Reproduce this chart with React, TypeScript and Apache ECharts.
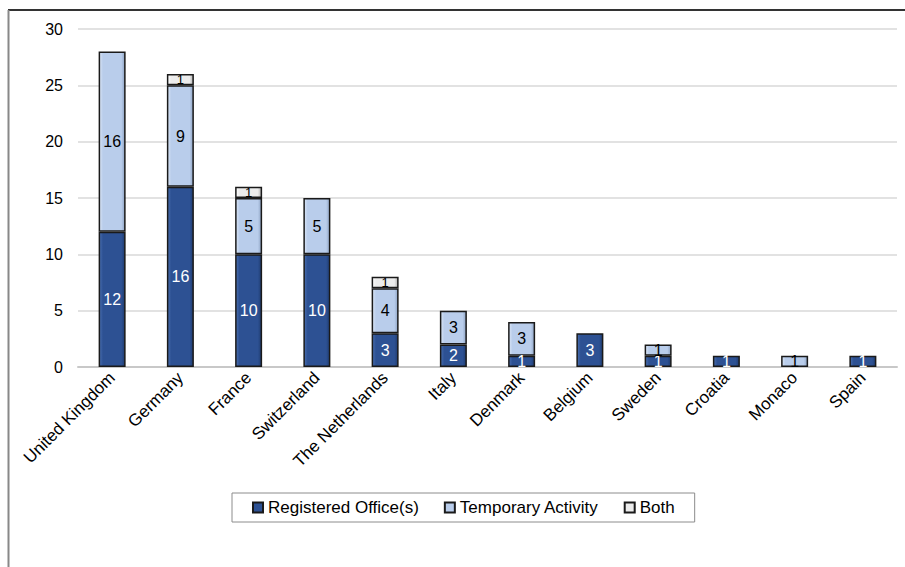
import React, { useEffect, useRef } from "react";
import * as echarts from "echarts";

const categories = [
  "United Kingdom",
  "Germany",
  "France",
  "Switzerland",
  "The Netherlands",
  "Italy",
  "Denmark",
  "Belgium",
  "Sweden",
  "Croatia",
  "Monaco",
  "Spain",
];
const registeredOffice = [12, 16, 10, 10, 3, 2, 1, 3, 1, 1, 0, 1];
const temporaryActivity = [16, 9, 5, 5, 4, 3, 3, 0, 1, 0, 1, 0];
const both = [0, 1, 1, 0, 1, 0, 0, 0, 0, 0, 0, 0];
const yTicks = { min: 0, max: 30, interval: 5 };

const FONT = "'Liberation Sans', Arial, sans-serif";

function grad(edgeL: string, base: string, edgeR: string) {
  return new echarts.graphic.LinearGradient(0, 0, 1, 0, [
    { offset: 0, color: edgeL },
    { offset: 0.14, color: base },
    { offset: 0.86, color: base },
    { offset: 1, color: edgeR },
  ]);
}

export default function App() {
  const ref = useRef<HTMLDivElement>(null);
  useEffect(() => {
    if (!ref.current) return;
    const chart = echarts.init(ref.current, undefined, { renderer: "svg" });
    const toData = (arr: number[]) => arr.map((v) => (v === 0 ? null : v));
    const mkSeries = (
      name: string,
      arr: number[],
      color: any,
      labelColor: string,
      labelSize: number
    ) => ({
      name,
      type: "bar",
      stack: "total",
      barWidth: 27,
      data: toData(arr),
      itemStyle: { color, borderColor: "#1a1a1a", borderWidth: 1.5 },
      label: {
        show: true,
        position: "inside",
        color: labelColor,
        fontSize: labelSize,
        fontFamily: FONT,
        textBorderWidth: 0,
        textBorderColor: "transparent",
      },
    });
    chart.setOption({
      animation: false,
      backgroundColor: "#fff",
      textStyle: { fontFamily: FONT },
      grid: { left: 78, right: 8, top: 29, bottom: 200 },
      legend: {
        left: 232,
        top: 493,
        itemWidth: 10,
        itemHeight: 10,
        itemGap: 25,
        icon: "rect",
        padding: [6, 20],
        borderColor: "#8c8c8c",
        borderWidth: 1,
        textStyle: { fontSize: 17, color: "#000", fontFamily: FONT },
        data: ["Registered Office(s)", "Temporary Activity", "Both"],
      },
      xAxis: {
        type: "category",
        data: categories,
        axisLine: { lineStyle: { color: "#c8c8c8", width: 2 } },
        axisTick: { show: false },
        axisLabel: {
          rotate: 45,
          interval: 0,
          fontSize: 17,
          color: "#000",
          margin: 8,
          fontFamily: FONT,
        },
      },
      yAxis: {
        type: "value",
        min: yTicks.min,
        max: yTicks.max,
        interval: yTicks.interval,
        axisLine: { show: false },
        axisTick: { show: false },
        axisLabel: { fontSize: 16, color: "#000", margin: 15, fontFamily: FONT },
        splitLine: { lineStyle: { color: "#d9d9d9", width: 1.5 } },
      },
      series: [
        mkSeries(
          "Registered Office(s)",
          registeredOffice,
          grad("#4a6fb0", "#2d5193", "#1f3c70"),
          "#fff",
          16
        ),
        mkSeries(
          "Temporary Activity",
          temporaryActivity,
          grad("#dbe6f6", "#b9cdeb", "#8fa4c4"),
          "#000",
          16
        ),
        mkSeries(
          "Both",
          both,
          grad("#ffffff", "#ececec", "#b0b0b0"),
          "#000",
          13
        ),
      ],
      graphic: [
        {
          type: "line",
          shape: { x1: 8, y1: 10, x2: 905, y2: 10 },
          style: { stroke: "#333", lineWidth: 2 },
          silent: true,
        },
        {
          type: "line",
          shape: { x1: 8.5, y1: 10, x2: 8.5, y2: 567 },
          style: { stroke: "#888", lineWidth: 2 },
          silent: true,
        },
      ],
    });
    return () => chart.dispose();
  }, []);
  return (
    <div
      ref={ref}
      style={{ position: "fixed", left: 0, top: 0, width: 905, height: 567 }}
    />
  );
}
